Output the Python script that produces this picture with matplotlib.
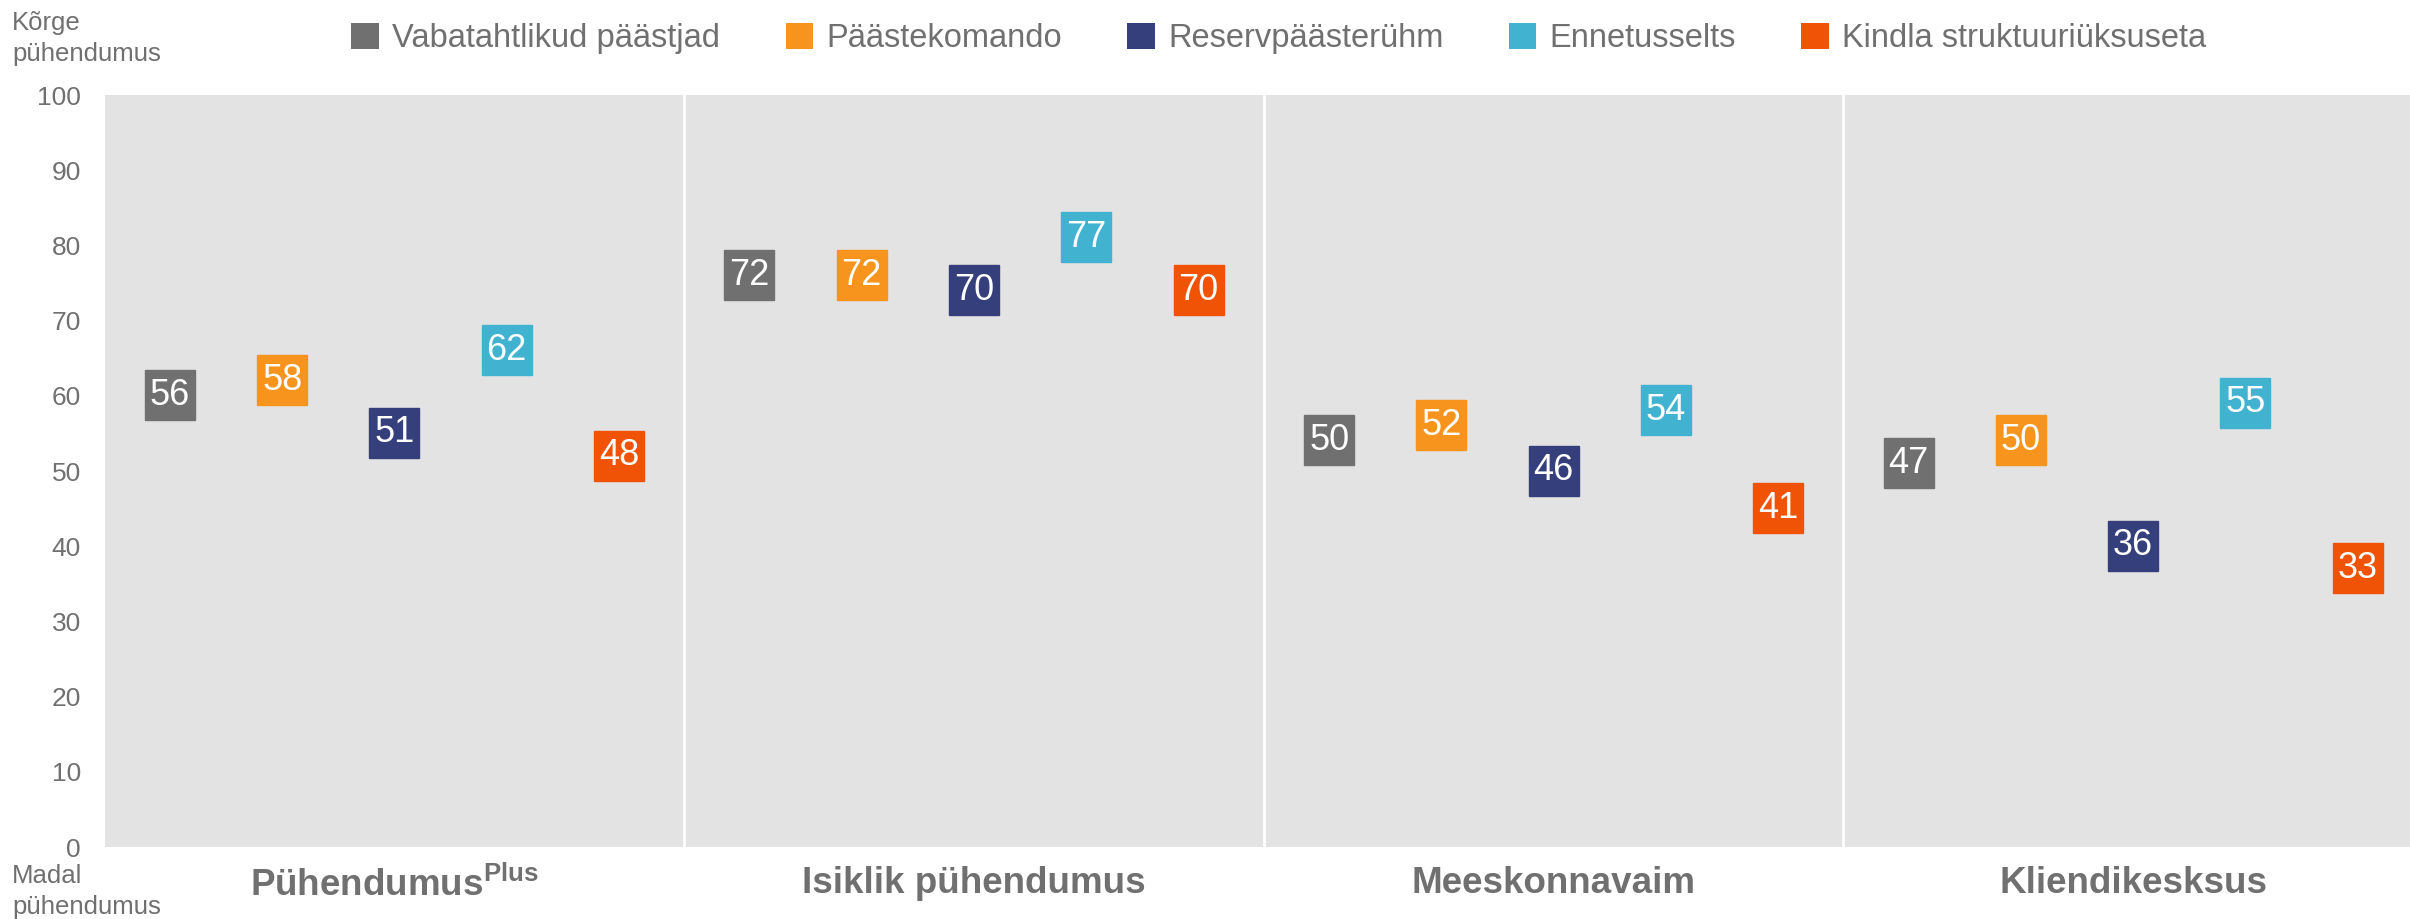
import numpy as np
import matplotlib
matplotlib.use("Agg")
import matplotlib.pyplot as plt
import matplotlib.patches as mpatches
from matplotlib.transforms import offset_copy

plt.rcParams["font.family"] = ["Liberation Sans", "DejaVu Sans"]
plt.rcParams["mathtext.fontset"] = "custom"
plt.rcParams["mathtext.rm"] = "Liberation Sans"
plt.rcParams["mathtext.bf"] = "Liberation Sans:bold"

# ── Data ──────────────────────────────────────────────────────────────────
categories = ["Pühendumus$^{\\mathbf{Plus}}$", "Isiklik pühendumus",
              "Meeskonnavaim", "Kliendikesksus"]
series_names = ["Vabatahtlikud päästjad", "Päästekomando", "Reservpäästerühm",
                "Ennetusselts", "Kindla struktuuriüksuseta"]
vabatahtlikud = [56, 72, 50, 47]
paastekomando = [58, 72, 52, 50]
reserv = [51, 70, 46, 36]
ennetusselts = [62, 77, 54, 55]
kindla = [48, 70, 41, 33]
series_values = [vabatahtlikud, paastekomando, reserv, ennetusselts, kindla]
yticks = list(range(0, 101, 10))

COLORS = ["#707070", "#F7941D", "#353F7B", "#41B3D0", "#F05306"]
BG = "#E3E3E3"
TXT = "#707070"

fig = plt.figure(figsize=(24.10, 9.19), dpi=100)
ax = fig.add_axes([0.0434, 0.0783, 0.962, 0.8183])
ax.set_facecolor(BG)

n_groups = len(categories)
n_series = len(series_names)
step = 0.1937
group_x = np.arange(n_groups)

# labels sit just above their data point (like Excel "above" data labels)
lift = offset_copy(ax.transData, fig=fig, x=0, y=22, units="points")

for s, (vals, col) in enumerate(zip(series_values, COLORS)):
    xs = group_x + (s - (n_series - 1) / 2) * step
    ax.plot(xs, vals, linestyle="none", marker="s", markersize=36,
            color=col, transform=lift, zorder=3)
    for x, v in zip(xs, vals):
        ax.text(x, v, str(v), transform=lift, ha="center", va="center",
                color="white", fontsize=26, zorder=4)

# white separators between groups
for b in group_x[1:] - 0.5:
    ax.axvline(b, color="white", linewidth=2, zorder=1)

ax.set_xlim(-0.5, n_groups - 0.5)
ax.set_ylim(0, 100)
ax.set_yticks(yticks)
ax.tick_params(axis="y", length=0, labelsize=19, labelcolor=TXT, pad=17)
ax.set_xticks(group_x)
ax.set_xticklabels(categories, fontsize=26.5, fontweight="bold", color=TXT)
ax.tick_params(axis="x", length=0, pad=14)
for spine in ax.spines.values():
    spine.set_visible(False)

# corner texts
fig.text(0.005, 0.988, "Kõrge\npühendumus", ha="left", va="top",
         fontsize=18.5, color=TXT, linespacing=1.35)
fig.text(0.005, 0.0, "Madal\npühendumus", ha="left", va="bottom",
         fontsize=18.5, color=TXT, linespacing=1.38)

# legend
handles = [mpatches.Patch(facecolor=c, edgecolor="none", label=n)
           for c, n in zip(COLORS, series_names)]
fig.legend(handles=handles, loc="center", bbox_to_anchor=(0.5306, 0.958),
           ncol=n_series, frameon=False, fontsize=23.5, labelcolor=TXT,
           handlelength=0.85, handleheight=0.85, handletextpad=0.4,
           columnspacing=2.0, borderaxespad=0)

fig.savefig("out.png", dpi=100, facecolor="white")
